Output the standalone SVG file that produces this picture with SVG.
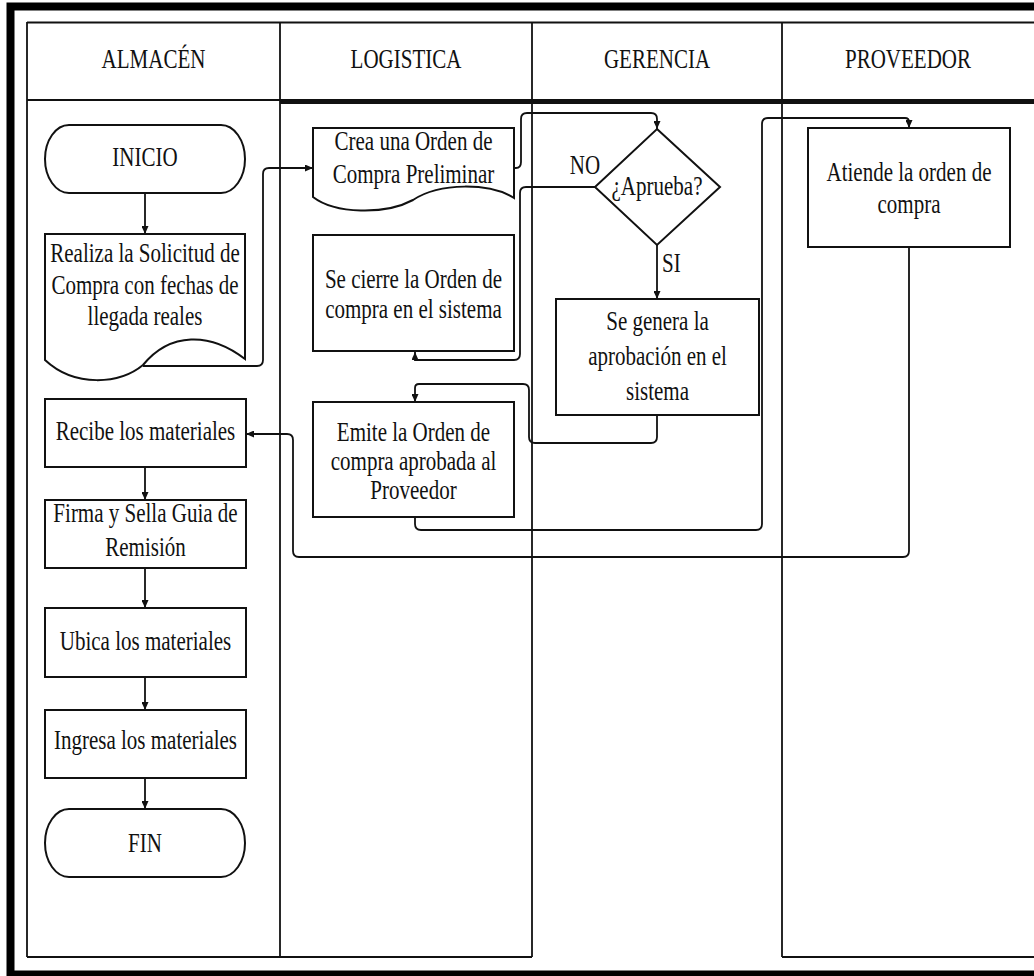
<svg xmlns="http://www.w3.org/2000/svg" width="1034" height="976" viewBox="0 0 1034 976">
<style>
  .frame{fill:none;stroke:#000;stroke-width:8}
  .grid{fill:none;stroke:#111;stroke-width:1.8}
  .node{fill:#fff;stroke:#111;stroke-width:2}
  .conn{fill:none;stroke:#111;stroke-width:1.8}
  .arr{fill:none;stroke:#111;stroke-width:1.8;marker-end:url(#ah)}
  text{font-family:"Liberation Serif","Times New Roman",serif;font-size:21px;fill:#111;text-anchor:middle}
  .st{text-anchor:start}
</style>
<defs>
  <marker id="ah" viewBox="0 0 8 7" refX="8" refY="3.5" markerWidth="8" markerHeight="7" markerUnits="userSpaceOnUse" orient="auto">
    <path d="M0,0 L8,3.5 L0,7 z" fill="#111"/>
  </marker>
</defs>
<rect width="1034" height="976" fill="#fff"/>
<rect class="frame" x="10.5" y="6.5" width="1100" height="968"/>

<g id="lanes">
  <line class="grid" x1="27" y1="22.5" x2="1034" y2="22.5"/>
  <line class="grid" x1="27" y1="22" x2="27" y2="957"/>
  <line class="grid" x1="280" y1="22" x2="280" y2="957"/>
  <line class="grid" x1="532" y1="22" x2="532" y2="957"/>
  <line class="grid" x1="782" y1="22" x2="782" y2="957"/>
  <line class="grid" x1="27" y1="100" x2="280" y2="100"/>
  <line x1="280" y1="101.5" x2="1034" y2="101.5" stroke="#111" stroke-width="5"/>
  <line class="grid" x1="27" y1="957" x2="532" y2="957"/>
  <line class="grid" x1="782" y1="957" x2="1034" y2="957"/>
  <text transform="translate(153.5,68) scale(1,1.25)">ALMACÉN</text>
  <text transform="translate(406,68) scale(1,1.25)">LOGISTICA</text>
  <text transform="translate(657,68) scale(1,1.25)">GERENCIA</text>
  <text transform="translate(908,68) scale(1,1.25)">PROVEEDOR</text>
</g>

<g id="connectors">
  <path class="arr" d="M145,193 V234"/>
  <path class="arr" d="M143,366 H257 Q263,366 263,360 V174 Q263,168 269,168 H313"/>
  <path class="arr" d="M514,168 H516 Q521,168 521,162 V119 Q521,113 527,113 H651 Q657,113 657,119 V129"/>
  <path class="arr" d="M595,187 H526 Q520,187 520,193 V354 Q520,360 514,360 H415 V352"/>
  <path class="arr" d="M657,245 V299"/>
  <path class="arr" d="M657,415 V437 Q657,443 651,443 H535 Q529,443 529,437 V390 Q529,384 523,384 H419 Q415,384 415,388 V402"/>
  <path class="arr" d="M415,517 V524 Q415,530 421,530 H756 Q762,530 762,524 V124 Q762,118 768,118 H905 Q909,118 909,122 V128"/>
  <path class="arr" d="M909,247 V551 Q909,557 903,557 H299 Q293,557 293,551 V440 Q293,434 287,434 H246"/>
  <path class="arr" d="M145,467 V500"/>
  <path class="arr" d="M145,568 V608"/>
  <path class="arr" d="M145,677 V710"/>
  <path class="arr" d="M145,778 V809"/>
</g>

<g id="inicio">
  <rect class="node" x="45" y="125" width="200" height="68" rx="24" ry="34"/>
  <text transform="translate(145,166) scale(1,1.25)">INICIO</text>
</g>
<g id="realiza">
  <path class="node" d="M45,234 H245 V359 C210,332 170,332 143,365 C120,384 75,388 45,360 Z"/>
  <text transform="translate(145,262) scale(1,1.25)">Realiza la Solicitud de</text>
  <text transform="translate(145,294) scale(1,1.25)">Compra con fechas de</text>
  <text transform="translate(145,325) scale(1,1.25)">llegada reales</text>
</g>
<g id="crea">
  <path class="node" d="M313,128 H514 V198 C490,183 440,182 413,200 C385,215 335,214 313,197 Z"/>
  <text transform="translate(413.5,150) scale(1,1.25)">Crea una Orden de</text>
  <text transform="translate(413.5,183) scale(1,1.25)">Compra Preliminar</text>
</g>
<g id="cierre">
  <rect class="node" x="313" y="235" width="201" height="116"/>
  <text transform="translate(413.5,288) scale(1,1.25)">Se cierre la Orden de</text>
  <text transform="translate(413.5,318) scale(1,1.25)">compra en el sistema</text>
</g>
<g id="aprueba">
  <path class="node" d="M657,129 L720,187 L657,245 L595,187 Z"/>
  <text transform="translate(657,195) scale(1,1.25)">¿Aprueba?</text>
  <text transform="translate(585,174) scale(1,1.25)">NO</text>
  <text class="st" transform="translate(662,272) scale(1,1.25)">SI</text>
</g>
<g id="genera">
  <rect class="node" x="556" y="299" width="203" height="116"/>
  <text transform="translate(657.5,330) scale(1,1.25)">Se genera la</text>
  <text transform="translate(657.5,365) scale(1,1.25)">aprobación en el</text>
  <text transform="translate(657.5,400) scale(1,1.25)">sistema</text>
</g>
<g id="atiende">
  <rect class="node" x="808" y="128" width="202" height="119"/>
  <text transform="translate(909,181) scale(1,1.25)">Atiende la orden de</text>
  <text transform="translate(909,213) scale(1,1.25)">compra</text>
</g>
<g id="recibe">
  <rect class="node" x="45" y="399" width="201" height="68"/>
  <text transform="translate(145.5,440) scale(1,1.25)">Recibe los materiales</text>
</g>
<g id="emite">
  <rect class="node" x="313" y="402" width="201" height="115"/>
  <text transform="translate(413.5,441) scale(1,1.25)">Emite la Orden de</text>
  <text transform="translate(413.5,470) scale(1,1.25)">compra aprobada al</text>
  <text transform="translate(413.5,499) scale(1,1.25)">Proveedor</text>
</g>
<g id="firma">
  <rect class="node" x="45" y="500" width="201" height="68"/>
  <text transform="translate(145.5,522) scale(1,1.25)">Firma y Sella Guia de</text>
  <text transform="translate(145.5,556) scale(1,1.25)">Remisión</text>
</g>
<g id="ubica">
  <rect class="node" x="45" y="608" width="201" height="69"/>
  <text transform="translate(145.5,650) scale(1,1.25)">Ubica los materiales</text>
</g>
<g id="ingresa">
  <rect class="node" x="45" y="710" width="201" height="68"/>
  <text transform="translate(145.5,749) scale(1,1.25)">Ingresa los materiales</text>
</g>
<g id="fin">
  <rect class="node" x="45" y="809" width="200" height="68" rx="24" ry="34"/>
  <text transform="translate(145,852) scale(1,1.25)">FIN</text>
</g>
</svg>
